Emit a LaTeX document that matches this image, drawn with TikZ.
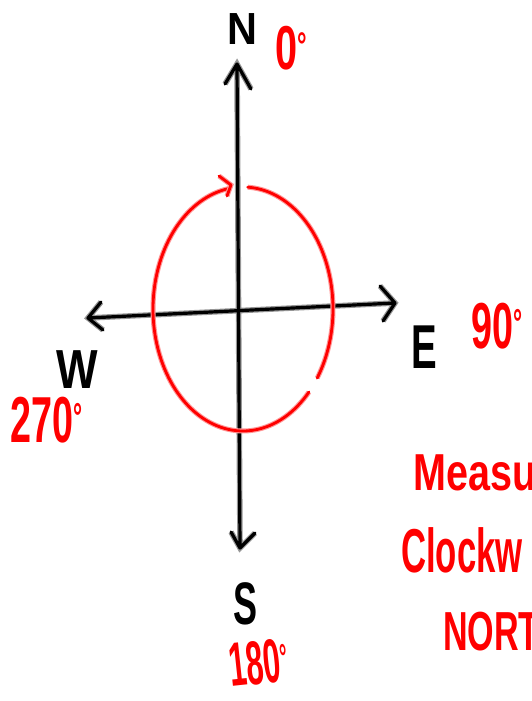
\documentclass[tikz,border=0pt]{standalone}
\usepackage{fontspec}
\setmainfont{Liberation Sans}
\definecolor{inkred}{RGB}{255,0,0}
\definecolor{halored}{RGB}{255,150,150}
\definecolor{halogrey}{RGB}{150,150,150}
\newcommand{\dg}{\raisebox{.18em}{\scalebox{0.6}{°}}}
\tikzset{
  axisline/.style={draw=black, line width=3.2pt, line cap=round, line join=round,
    preaction={draw=halogrey, line width=5.6pt}},
  redline/.style={draw=inkred, line width=2.8pt, line cap=round, line join=round,
    preaction={draw=halored, line width=5pt}},
  blacklbl/.style={text=black, inner sep=0pt, anchor=base west},
  redlbl/.style={text=inkred, inner sep=0pt, anchor=base west},
}
\begin{document}
\begin{tikzpicture}[x=1pt,y=-1pt]
\useasboundingbox (0,0) rectangle (532,701);
% axis end points
\coordinate (top) at (237,64);
\coordinate (bottom) at (240,548);
\coordinate (left) at (88,318);
\coordinate (right) at (395,303);
\coordinate (tw1) at (225,84);
\coordinate (tw2) at (251,89);
\coordinate (bw1) at (231,532);
\coordinate (bw2) at (255,533);
\coordinate (lw1) at (101,302);
\coordinate (lw2) at (103,330);
\coordinate (rw1) at (380,286);
\coordinate (rw2) at (383,321);
\draw[axisline] (top) -- (bottom) (left) -- (right)
  (tw1) -- (top) -- (tw2)
  (bw1) -- (bottom) -- (bw2)
  (lw1) -- (left) -- (lw2)
  (rw1) -- (right) -- (rw2);
% red clockwise circle
\draw[redline] plot[domain=-87:34.5, samples=60] ({243+90*cos(\x)},{309+122*sin(\x)});
\draw[redline] plot[domain=42.9:261, samples=90] ({243+90*cos(\x)},{309+122*sin(\x)});
\coordinate (hooktip) at (231,185);
\coordinate (hw1) at (219,176);
\coordinate (hw2) at (227,196);
\draw[redline] (hw1) -- (hooktip) -- (hw2);
% compass letters
\node[blacklbl, font=\bfseries\fontsize{45}{45}\selectfont] (labN) at (227,45) {\scalebox{0.92}[1]{N}};
\node[blacklbl, font=\bfseries\fontsize{62}{62}\selectfont] (labE) at (411,368) {\scalebox{0.62}[1]{E}};
\node[blacklbl, font=\bfseries\fontsize{55}{55}\selectfont] (labW) at (56,388) {\scalebox{0.8}[1]{W}};
\node[blacklbl, font=\bfseries\fontsize{60}{60}\selectfont] (labS) at (233,624) {\scalebox{0.6}[1]{S}};
% bearings
\node[redlbl, font=\bfseries\fontsize{62}{62}\selectfont] (deg0) at (275,70) {\scalebox{0.64}[1]{0\dg}};
\node[redlbl, font=\bfseries\fontsize{65}{65}\selectfont] (deg90) at (471,348) {\scalebox{0.58}[1]{90\dg}};
\node[redlbl, font=\bfseries\fontsize{65}{65}\selectfont] (deg270) at (10,442) {\scalebox{0.58}[1]{270\dg}};
\node[redlbl, font=\bfseries\fontsize{62}{62}\selectfont, rotate=6] (deg180) at (231,687) {\scalebox{0.5}[1]{180\dg}};
% note
\node[redlbl, font=\bfseries\fontsize{52}{52}\selectfont] (note1) at (413,490) {\scalebox{0.76}[1]{Measu}};
\node[redlbl, font=\bfseries\fontsize{62}{62}\selectfont] (note2) at (401,572) {\scalebox{0.56}[1]{Clockw}};
\node[redlbl, font=\bfseries\fontsize{55}{55}\selectfont] (note3) at (443,650) {\scalebox{0.62}[1]{NORT}};
\end{tikzpicture}
\end{document}
